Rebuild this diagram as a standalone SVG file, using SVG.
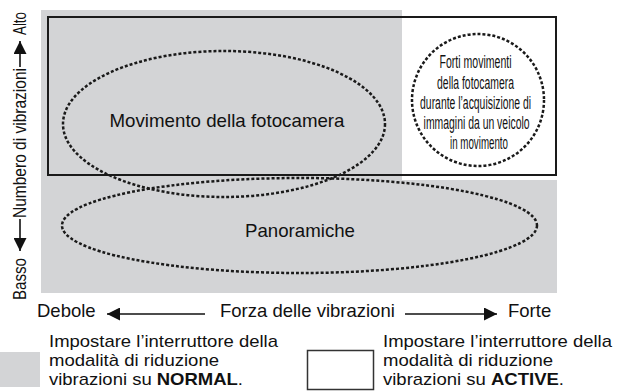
<svg xmlns="http://www.w3.org/2000/svg" width="618" height="392" viewBox="0 0 618 392">
<style>
  .t { font-family: "Liberation Sans", Arial, Helvetica, sans-serif; fill: #111; }
  .lab { font-size: 19px; }
  .ax { font-size: 18.5px; }
  .leg { font-size: 17px; }
  .vert { font-size: 18px; }
  .circ { font-size: 17.5px; text-anchor: middle; }
  .dot { fill: none; stroke: #1a1a1a; stroke-width: 2.5; stroke-dasharray: 3 2; }
  .gray { fill: #d3d4d6; }
  .shaft { stroke: #111; stroke-width: 1.6; fill: none; }
</style>
<defs>
  <marker id="ah" viewBox="0 0 13 13" refX="13" refY="6.5" markerWidth="13" markerHeight="13" markerUnits="userSpaceOnUse" orient="auto">
    <path d="M0,0 L13,6.5 L0,13 Z" fill="#111"/>
  </marker>
</defs>
<rect width="618" height="392" fill="#fff"/>

<g id="normal-area">
  <path class="gray" d="M41,10 H402 V180 H557 V293 H41 Z"/>
</g>
<g id="active-area">
  <rect x="48" y="17" width="508" height="158" fill="none" stroke="#1a1a1a" stroke-width="2"/>
</g>

<g id="movimento">
  <ellipse class="dot" cx="224" cy="124" rx="161" ry="73"/>
  <text class="t lab" x="227" y="127" text-anchor="middle" textLength="235" lengthAdjust="spacingAndGlyphs">Movimento della fotocamera</text>
</g>

<g id="panoramiche">
  <ellipse class="dot" cx="299.5" cy="225.5" rx="237.5" ry="47.5"/>
  <text class="t lab" x="300" y="237" text-anchor="middle" textLength="110" lengthAdjust="spacingAndGlyphs">Panoramiche</text>
</g>

<g id="forti">
  <circle class="dot" cx="478" cy="100" r="66"/>
  <text class="t circ">
    <tspan x="478" y="68" textLength="72" lengthAdjust="spacingAndGlyphs">Forti movimenti</tspan>
    <tspan x="478" y="88.5" textLength="77" lengthAdjust="spacingAndGlyphs">della fotocamera</tspan>
    <tspan x="478" y="109" textLength="111" lengthAdjust="spacingAndGlyphs">durante l’acquisizione di</tspan>
    <tspan x="479" y="129" textLength="106" lengthAdjust="spacingAndGlyphs">immagini da un veicolo</tspan>
    <tspan x="479" y="149" textLength="58" lengthAdjust="spacingAndGlyphs">in movimento</tspan>
  </text>
</g>

<g id="axis-x">
  <text class="t ax" x="37" y="317">Debole</text>
  <text class="t ax" x="220" y="317">Forza delle vibrazioni</text>
  <text class="t ax" x="508" y="317">Forte</text>
</g>

<g id="axis-y">
  <text class="t vert" transform="translate(26,0) rotate(-90)" x="-300" y="0" textLength="42" lengthAdjust="spacingAndGlyphs">Basso</text>
  <text class="t vert" transform="translate(26,0) rotate(-90)" x="-218" y="0" textLength="150" lengthAdjust="spacingAndGlyphs">Numbero di vibrazioni</text>
  <text class="t vert" transform="translate(26,0) rotate(-90)" x="-35" y="0" textLength="23" lengthAdjust="spacingAndGlyphs">Alto</text>
</g>

<g id="connectors">
  <line class="shaft" x1="205" y1="314" x2="107" y2="314" marker-end="url(#ah)"/>
  <line class="shaft" x1="405" y1="314" x2="497" y2="314" marker-end="url(#ah)"/>
  <line class="shaft" x1="20" y1="67" x2="20" y2="41" marker-end="url(#ah)"/>
  <line class="shaft" x1="20" y1="219" x2="20" y2="251" marker-end="url(#ah)"/>
</g>

<g id="legend-normal">
  <rect class="gray" x="0" y="352" width="40" height="35"/>
  <text class="t leg" x="49" y="347" textLength="229" lengthAdjust="spacingAndGlyphs">Impostare l’interruttore della</text>
  <text class="t leg" x="49" y="366" textLength="170" lengthAdjust="spacingAndGlyphs">modalità di riduzione</text>
  <text class="t leg" x="49" y="385" textLength="194" lengthAdjust="spacingAndGlyphs">vibrazioni su <tspan font-weight="bold">NORMAL</tspan>.</text>
</g>

<g id="legend-active">
  <rect x="307.5" y="350.5" width="66" height="39" fill="#fff" stroke="#333" stroke-width="1.5"/>
  <text class="t leg" x="383" y="347" textLength="229" lengthAdjust="spacingAndGlyphs">Impostare l’interruttore della</text>
  <text class="t leg" x="383" y="366" textLength="170" lengthAdjust="spacingAndGlyphs">modalità di riduzione</text>
  <text class="t leg" x="383" y="385" textLength="181" lengthAdjust="spacingAndGlyphs">vibrazioni su <tspan font-weight="bold">ACTIVE</tspan>.</text>
</g>
</svg>
